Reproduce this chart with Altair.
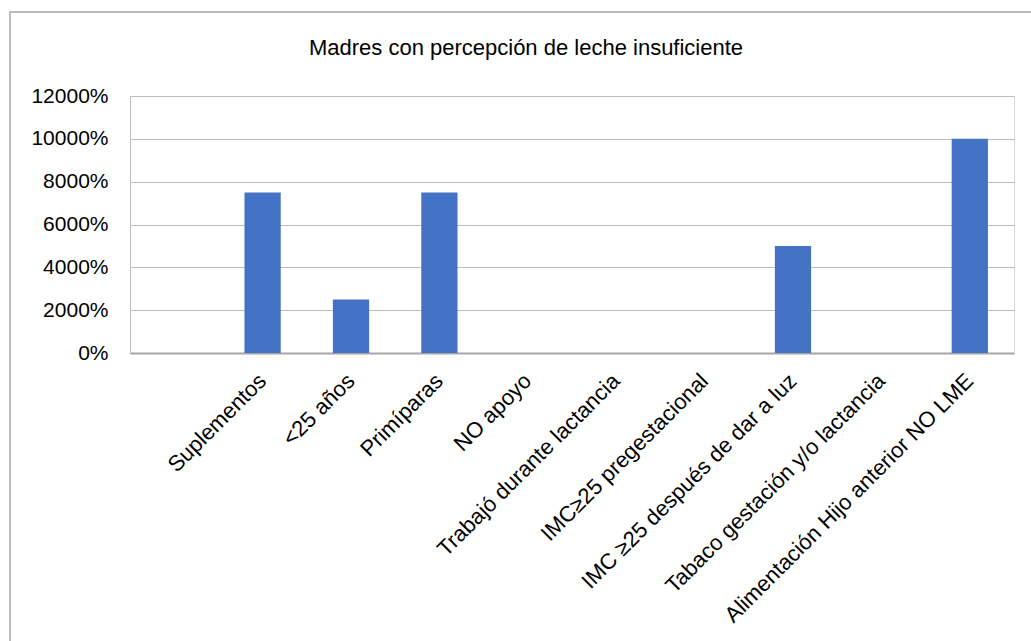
import altair as alt
import pandas as pd

# Factors and share of mothers perceiving insufficient milk (1 = 100%)
categories = [
    " ",
    "Suplementos",
    "<25 años",
    "Primíparas",
    "NO apoyo",
    "Trabajó durante lactancia",
    "IMC≥25 pregestacional",
    "IMC ≥25 después de dar a luz",
    "Tabaco gestación y/o lactancia",
    "Alimentación Hijo anterior NO LME",
]
values = [None, 75, 25, 75, 0, 0, 0, 50, 0, 100]
y_ticks = [0, 20, 40, 60, 80, 100, 120]
title_text = "Madres con percepción de leche insuficiente"

df = pd.DataFrame({"factor": categories, "valor": values})

FONT = "Liberation Sans"
BLUE = "#4472C4"
GRID = "#bdbdbd"

bars = alt.Chart(df).mark_bar(color=BLUE).encode(
    x=alt.X(
        "factor:N",
        sort=categories,
        title=None,
        scale=alt.Scale(paddingInner=0.59, paddingOuter=0.295),
        axis=alt.Axis(
            labelAngle=-45,
            labelAlign="right",
            labelBaseline="middle",
            labelPadding=24,
            labelFontSize=22,
            labelColor="#000000",
            labelFont=FONT,
            labelLimit=600,
            ticks=False,
            domainColor="#a6a6a6",
            domainWidth=2,
            grid=False,
        ),
    ),
    y=alt.Y(
        "valor:Q",
        title=None,
        scale=alt.Scale(domain=[0, 120], nice=False),
        axis=alt.Axis(
            values=y_ticks,
            format=".0%",
            labelFontSize=21,
            labelColor="#000000",
            labelFont=FONT,
            labelPadding=22,
            ticks=False,
            domainColor=GRID,
            gridColor=GRID,
            gridWidth=1,
        ),
    ),
)

base = alt.Chart(pd.DataFrame({"k": [0]}))

# Outer frame around the whole figure
frame = base.mark_rect(filled=False, stroke="#a6a6a6", strokeWidth=1.5).encode(
    x=alt.value(-120),
    x2=alt.value(1000),
    y=alt.value(-84),
    y2=alt.value(600),
)

# Figure title, centred on the frame
title = base.mark_text(
    text=title_text,
    font=FONT,
    fontSize=22,
    color="#000000",
    align="center",
    baseline="middle",
).encode(
    x=alt.value(396),
    y=alt.value(-48),
)

chart = (
    alt.layer(frame, title, bars)
    .properties(
        width=884,
        height=257,
        padding={"left": 130, "top": 96, "right": 17, "bottom": 288},
        autosize=alt.AutoSizeParams(type="none"),
    )
    .configure_view(stroke=None)
    .configure(background="#ffffff")
)

chart.save("out.html", embed_options={"renderer": "svg", "actions": False})
